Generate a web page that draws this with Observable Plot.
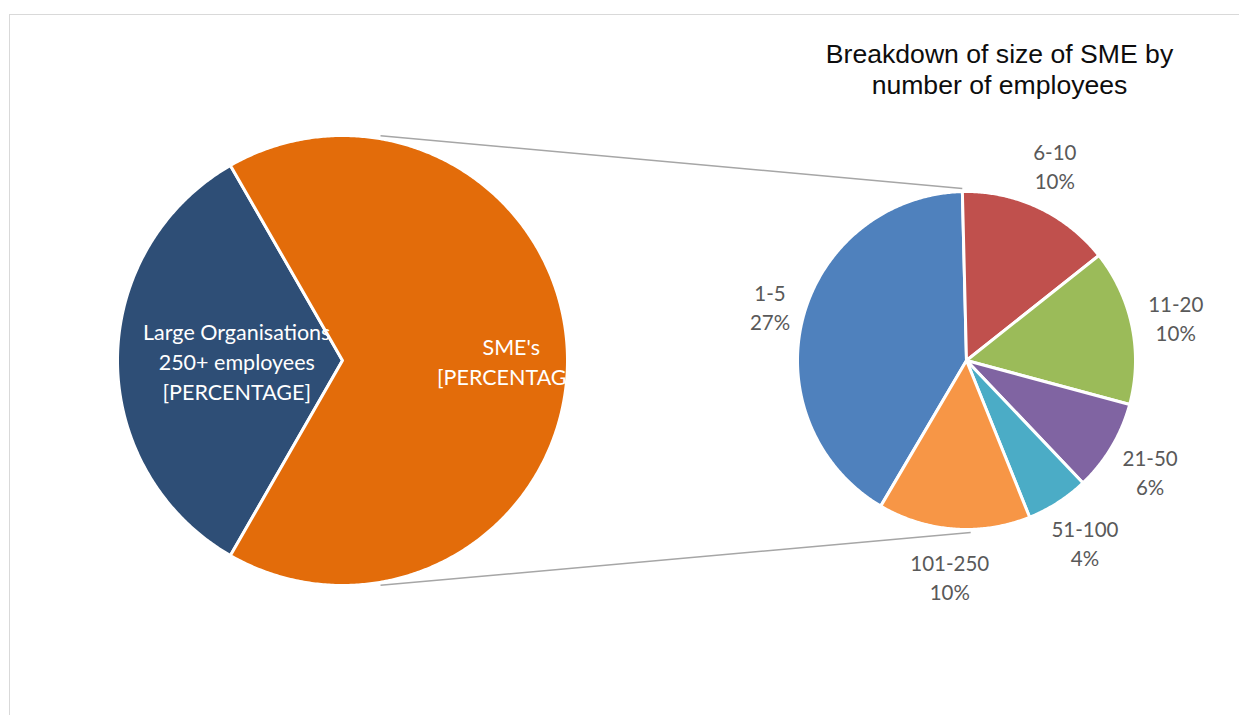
<!DOCTYPE html>
<html><head><meta charset="utf-8">
<script src="https://cdn.jsdelivr.net/npm/d3@7"></script>
<script src="https://cdn.jsdelivr.net/npm/@observablehq/plot@0.6"></script>
<style>
html,body{margin:0;padding:0;background:#fff;overflow:hidden;}
#frame{position:absolute;left:9px;top:14px;width:1400px;height:900px;border:1.5px solid #d9d9d9;box-sizing:border-box;}
#chart{position:absolute;left:0;top:0;}
</style></head><body>
<div id="frame"></div><div id="chart"></div>
<script>
// ---- data ----
const mainCategories = ["Large Organisations", "SME's"];
const mainLabels = ["Large Organisations\n250+ employees\n[PERCENTAGE]", "SME's\n[PERCENTAGE]"];
const mainValues = [33.4, 66.6];
const smeCategories = ["1-5", "6-10", "11-20", "21-50", "51-100", "101-250"];
const smeValues = [27.4, 9.8, 9.9, 5.8, 4.0, 9.7];
const titleLines = ["Breakdown of size of SME by", "number of employees"];

// ---- styles / layout ----
const mainColors = ["#2E4E76", "#E36C0A"];
const smeColors = ["#4F81BD", "#C0504D", "#9BBB59", "#8064A2", "#4BACC6", "#F79646"];
const W = 1239, H = 715;
const leftPie = {cx: 342, cy: 360, r: 225};
const rightPie = {cx: 966, cy: 360, r: 169};
const smeRotation = -1.4;          // boundary between last and first slice of second pie
const mainLabelRadius = [0.47, 0.75];
const connectorAngle = 9.6;
const labelFont = "Lato, 'Open Sans', sans-serif";
const labelSize = 20.5;

const rad = d => d * Math.PI / 180;
const pt = (c, ang, r) => [c.cx + r * Math.sin(rad(ang)), c.cy - r * Math.cos(rad(ang))];

function slices(cats, vals, c, start, total) {
  let a = start;
  return cats.map((cat, i) => {
    const span = vals[i] / total * 360;
    const a0 = a, a1 = a + span; a = a1;
    const ring = [[c.cx, c.cy]];
    const n = Math.max(4, Math.ceil(span * 2));
    for (let k = 0; k <= n; k++) ring.push(pt(c, a0 + span * k / n, c.r));
    ring.push([c.cx, c.cy]);
    return {category: cat, value: vals[i], mid: (a0 + a1) / 2,
      geometry: {type: "Polygon", coordinates: [ring]}};
  });
}

const mainTotal = d3.sum(mainValues);
const smeSpan = mainValues[1] / mainTotal * 360;
const largeSpan = mainValues[0] / mainTotal * 360;
const largeStart = 90 - smeSpan / 2 - largeSpan; // "other" slice centred on the right
const mainSlices = slices(mainCategories, mainValues, leftPie, largeStart, mainTotal);

const smeTotal = d3.sum(smeValues);
const smeStart = smeRotation - smeValues[0] / smeTotal * 360;
const smeSlices = slices(smeCategories, smeValues, rightPie, smeStart, smeTotal);

const mainLabelData = mainSlices.map((s, i) => {
  const [x, y] = pt(leftPie, s.mid, leftPie.r * mainLabelRadius[i]);
  return {x, y, text: mainLabels[i], cat: s.category};
});

const smeLabelData = smeSlices.map(s => {
  const text = `${s.category}\n${Math.round(s.value)}%`;
  const w = d3.max(text.split("\n"), t => t.length) * labelSize * 0.52;
  const h = 2 * labelSize * 1.42;
  const [ax, ay] = pt(rightPie, s.mid, rightPie.r + 18);
  return {x: ax + Math.sin(rad(s.mid)) * w / 2, y: ay - Math.cos(rad(s.mid)) * h / 2, text};
});

const [lt, lb] = [pt(leftPie, connectorAngle, leftPie.r + 3), pt(leftPie, 180 - connectorAngle, leftPie.r + 3)];
const [rt, rb] = [pt(rightPie, smeRotation, rightPie.r + 3), pt(rightPie, smeRotation + 180, rightPie.r + 3)];
const connectors = [
  {x1: lt[0], y1: lt[1], x2: rt[0], y2: rt[1]},
  {x1: lb[0], y1: lb[1], x2: rb[0], y2: rb[1]}
];

const titleData = [{x: 999, y: 68, text: titleLines.join("\n")}];

const chart = Plot.plot({
  width: W, height: H,
  margin: 0,
  projection: {type: "identity"},
  color: {domain: [...mainCategories, ...smeCategories], range: [...mainColors, ...smeColors]},
  marks: [
    Plot.link(connectors, {x1: "x1", y1: "y1", x2: "x2", y2: "y2", stroke: "#A6A6A6", strokeWidth: 1.5}),
    Plot.geo(mainSlices, {geometry: "geometry", fill: "category", stroke: "white", strokeWidth: 3}),
    Plot.geo(smeSlices, {geometry: "geometry", fill: "category", stroke: "white", strokeWidth: 3}),
    Plot.text(mainLabelData, {x: "x", y: "y", text: "text", fill: "white", fontFamily: labelFont,
      fontSize: 21.5, lineHeight: 1.4, textAnchor: "middle", lineAnchor: "middle"}),
    Plot.text(smeLabelData, {x: "x", y: "y", text: "text", fill: "#595959", fontFamily: labelFont,
      fontSize: labelSize, lineHeight: 1.42, textAnchor: "middle", lineAnchor: "middle"}),
    Plot.text(titleData, {x: "x", y: "y", text: "text", fill: "#0d0d0d",
      fontFamily: "'Liberation Sans', Arial, sans-serif", fontSize: 26.6, lineHeight: 1.17,
      textAnchor: "middle", lineAnchor: "middle"})
  ]
});
chart.style.background = "transparent";
document.getElementById("chart").appendChild(chart);

// clip the SME label to its pie, as in the original
const svg = d3.select(chart);
svg.append("defs").append("clipPath").attr("id", "smeClip")
  .append("circle").attr("cx", leftPie.cx).attr("cy", leftPie.cy).attr("r", leftPie.r);
svg.selectAll("text").filter(function() { return this.textContent.startsWith("SME's"); })
  .each(function() {
    const g = document.createElementNS("http://www.w3.org/2000/svg", "g");
    g.setAttribute("clip-path", "url(#smeClip)");
    this.parentNode.insertBefore(g, this);
    g.appendChild(this);
  });
</script>
</body></html>
